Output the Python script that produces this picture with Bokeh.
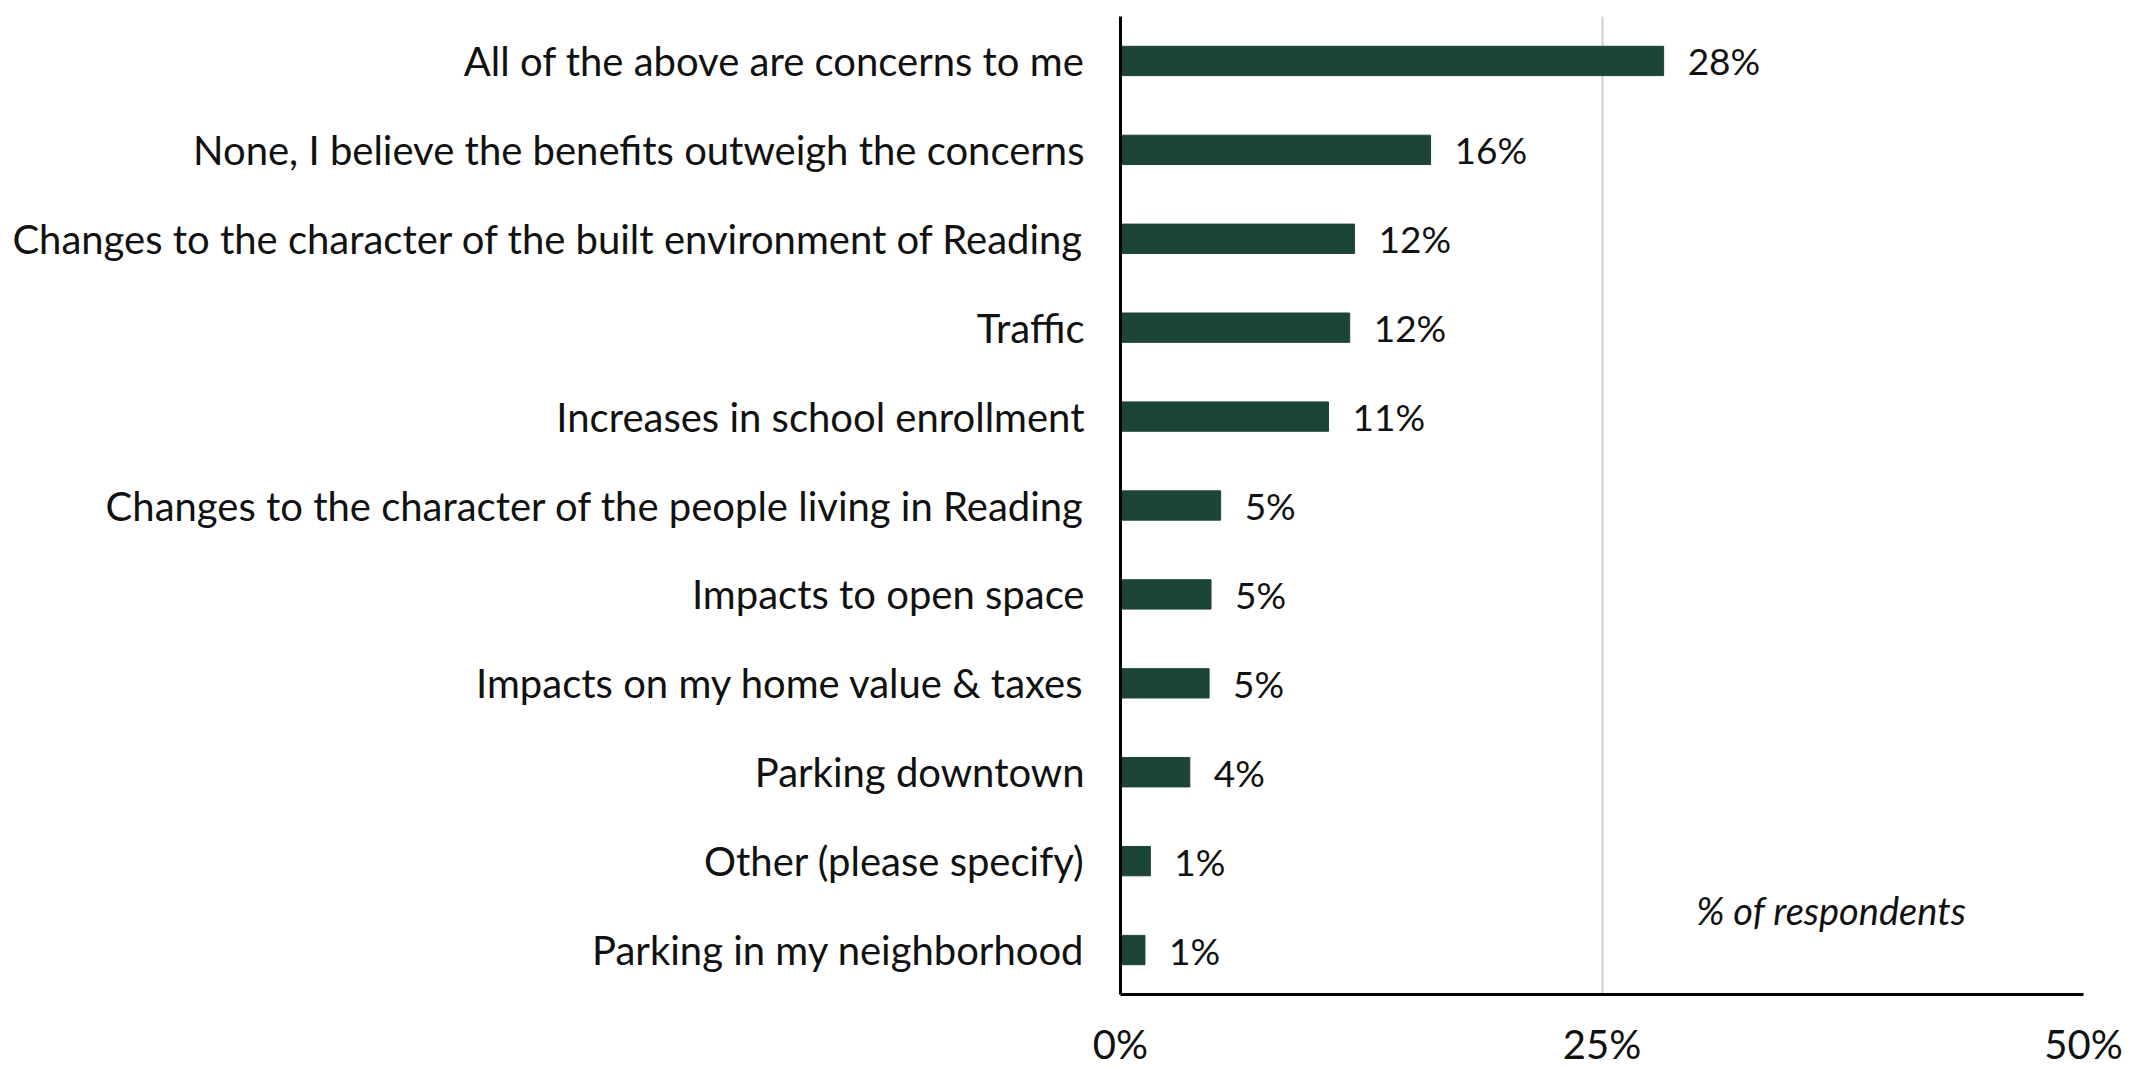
from bokeh.plotting import figure
from bokeh.models import ColumnDataSource, Label, FixedTicker, CustomJSTickFormatter
from bokeh.embed import file_html
from bokeh.resources import INLINE
from bokeh.core.properties import value

categories = [
    "All of the above are concerns to me",
    "None, I believe the benefits outweigh the concerns",
    "Changes to the character of the built environment of Reading",
    "Traffic",
    "Increases in school enrollment",
    "Changes to the character of the people living in Reading",
    "Impacts to open space",
    "Impacts on my home value & taxes",
    "Parking downtown",
    "Other (please specify)",
    "Parking in my neighborhood",
]
values = [28.2, 16.1, 12.15, 11.9, 10.8, 5.2, 4.7, 4.6, 3.6, 1.55, 1.27]
value_labels = ["28%", "16%", "12%", "12%", "11%", "5%", "5%", "5%", "4%", "1%", "1%"]
x_ticks = [0, 25, 50]

FONT = "Lato"
FS = "40px"
GREEN = "#1B4635"

src = ColumnDataSource(dict(cat=categories, val=values, lab=value_labels))

p = figure(
    width=2132, height=1070,
    y_range=list(reversed(categories)),
    x_range=(0, 50),
    output_backend="svg", toolbar_location=None,
    min_border_left=1120, min_border_right=49,
    min_border_top=16, min_border_bottom=60,
)
p.outline_line_color = None
p.background_fill_color = "white"
p.border_fill_color = "white"

p.hbar(y="cat", right="val", left=0, height=0.33, source=src,
       fill_color=GREEN, line_color=GREEN, line_width=1)

p.text(x="val", y="cat", text="lab", source=src, x_offset=24,
       text_baseline="middle", text_align="left",
       text_font=value(FONT), text_font_size="37px", text_color="#111111")

p.add_layout(Label(x=36.9, y=0.95, text="% of respondents", text_font=FONT,
                   text_font_size="38px", text_font_style="italic",
                   text_align="center", text_baseline="middle", text_color="#111111"))

# axes
p.xaxis.ticker = FixedTicker(ticks=x_ticks)
p.xaxis.formatter = CustomJSTickFormatter(code="return tick + '%';")
p.xaxis.major_tick_line_color = None
p.xaxis.minor_tick_line_color = None
p.xaxis.axis_line_color = "black"
p.xaxis.axis_line_width = 3
p.xaxis.major_label_standoff = 19
p.xaxis.major_label_text_font = FONT
p.xaxis.major_label_text_font_size = "40px"
p.xaxis.major_label_text_color = "#111111"

p.yaxis.major_tick_line_color = None
p.yaxis.minor_tick_line_color = None
p.yaxis.axis_line_color = "black"
p.yaxis.axis_line_width = 3
p.yaxis.major_label_standoff = 30
p.yaxis.major_label_text_font = FONT
p.yaxis.major_label_text_font_size = FS
p.yaxis.major_label_text_color = "#111111"

p.ygrid.grid_line_color = None
p.xgrid.grid_line_color = "#D0D0D0"
p.xgrid.grid_line_width = 2

open("out.html", "w").write(file_html(p, INLINE))
